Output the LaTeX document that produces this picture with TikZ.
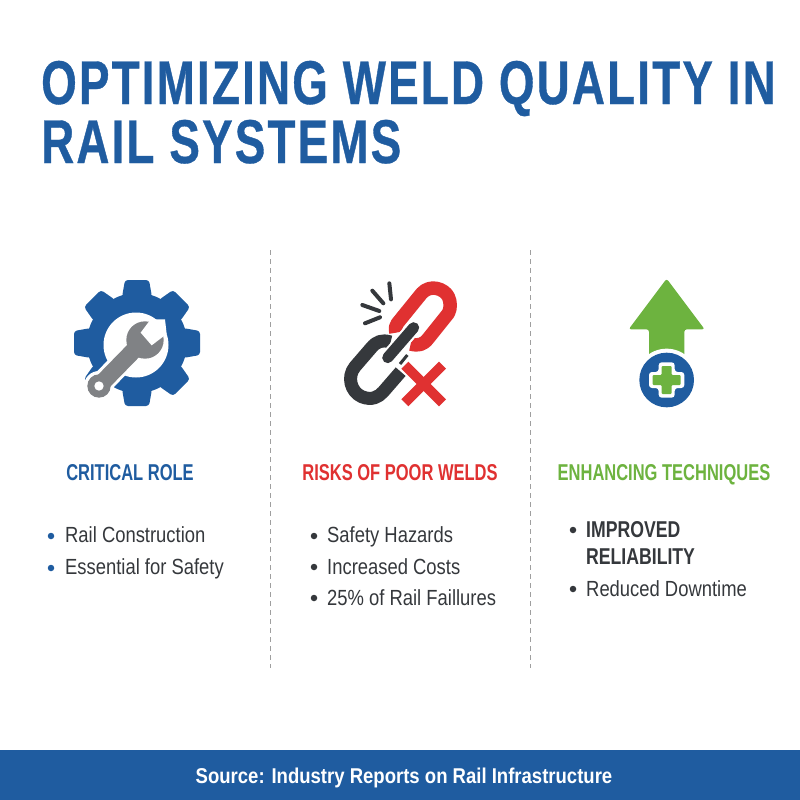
\documentclass[tikz,border=0pt]{standalone}
\usepackage{fontspec}
\setmainfont{Liberation Sans}
\newfontfamily\ttlfont[FakeStretch=0.74,LetterSpace=3.6,FakeBold=0.6]{Liberation Sans Bold}
\newfontfamily\hdfont[FakeStretch=0.72]{Liberation Sans Bold}
\newfontfamily\itemfont[FakeStretch=0.84]{Liberation Sans}
\newfontfamily\itemboldfont[FakeStretch=0.77]{Liberation Sans Bold}
\newfontfamily\footfont[FakeStretch=0.865]{Liberation Sans Bold}
\definecolor{wblue}{HTML}{1F5CA0}
\definecolor{wred}{HTML}{E03131}
\definecolor{wgreen}{HTML}{6DB33F}
\definecolor{wdark}{HTML}{35383C}
\definecolor{wgray}{HTML}{808285}
\tikzset{
  ttl/.style={anchor=base west,inner sep=0,text=wblue,font=\fontsize{62}{64}\selectfont\ttlfont},
  hd/.style={anchor=base,inner sep=0,font=\fontsize{23}{24}\selectfont\hdfont},
  itm/.style={anchor=base west,inner sep=0,text=wdark,font=\fontsize{22}{24}\selectfont\itemfont},
  itmb/.style={anchor=base west,inner sep=0,text=wdark,font=\fontsize{23}{24}\selectfont\itemboldfont},
  bul/.style={circle,inner sep=0,minimum size=6.5bp},
  divider/.style={draw=gray!75,line width=1bp,dash pattern=on 5bp off 4bp},
}
\begin{document}
\begin{tikzpicture}[x=1bp,y=-1bp]
\useasboundingbox (0,0) rectangle (800,800);
\fill[white] (0,0) rectangle (800,800);
\node[ttl] (t1) at (41,104) {OPTIMIZING WELD QUALITY IN};
\node[ttl] (t2) at (41,163) {RAIL SYSTEMS};
\draw[divider] (270,250) -- (270,668);
\draw[divider] (530,250) -- (530,668);
% gear
\begin{scope}[shift={(137,343)}]
\fill[wblue] (0,0) circle (50);
\foreach \a in {0,45,...,315}{
  \fill[wblue,rotate=\a,rounded corners=3bp] (46,-15) -- (63,-12) -- (63,12) -- (46,15) -- cycle;
}
\fill[white] (-1,2) circle (32.5);
\end{scope}
% wrench
\begin{scope}[shift={(50,260)},scale=1/3]
\draw[white,line width=23bp] (147,378) -- (270,250);
\fill[white] (147,378) circle (45);
\fill[wgray] (147,378) circle (35);
\draw[wgray,line width=17bp] (147,378) -- (270,252);
\fill[wgray] (285,240) circle (56);
\fill[white] (302,178) -- (272,218) -- (305,256) -- (350,222) -- (345,178) -- cycle;
\fill[white] (147,378) circle (14);
\end{scope}
% broken link
\begin{scope}[shift={(320,260)},scale=1/3,line cap=butt,line join=round]
\draw[wred,line width=13.5bp] (228,218) .. controls (225,205) and (226,198) .. (232,190) -- (305,100) .. controls (330,72) and (372,85) .. (385,110) .. controls (392,125) and (393,145) .. (385,160) -- (325,235) .. controls (310,255) and (295,258) .. (272,252);
\draw[white,line width=15bp,line cap=round] (281,203) -- (203,293);
\draw[wdark,line width=13bp] (212,246) .. controls (185,238) and (170,245) .. (155,262) -- (105,320) .. controls (80,350) and (92,395) .. (125,410) .. controls (155,422) and (175,412) .. (190,395) -- (242,335);
\draw[white,line width=15bp,line cap=round] (281,203) -- (203,293);
\draw[wdark,line width=11bp,line cap=round] (281,203) -- (203,293);
\draw[wdark,line width=3bp] (262,285) -- (240,312);
\draw[white,line width=13bp] (254.5,315.5) -- (367.5,428.5);
\draw[wred,line width=10bp] (254.5,315.5) -- (367.5,428.5);
\draw[wred,line width=10bp] (367.5,315.5) -- (254.5,428.5);
\draw[wdark,line width=4bp,line cap=round] (208,70) -- (213,118);
\draw[wdark,line width=4bp,line cap=round] (157,92) -- (190,130);
\draw[wdark,line width=4bp,line cap=round] (127,135) -- (178,153);
\draw[wdark,line width=4bp,line cap=round] (135,190) -- (180,172);
\end{scope}
% arrow and plus
\begin{scope}[shift={(590,260)},scale=1/3]
\fill[wgreen,rounded corners=2.5bp] (230,56) -- (344,208) -- (283,208) -- (283,300) -- (177,300) -- (177,208) -- (116,208) -- cycle;
\fill[white] (230,360) circle (94);
\fill[wblue] (230,360) circle (82);
\fill[white,rounded corners=3bp] (206,307) -- (254,307) -- (254,336) -- (283,336) -- (283,384) -- (254,384) -- (254,413) -- (206,413) -- (206,384) -- (177,384) -- (177,336) -- (206,336) -- cycle;
\fill[wgreen,rounded corners=1bp] (215,318) -- (245,318) -- (245,345) -- (272,345) -- (272,375) -- (245,375) -- (245,402) -- (215,402) -- (215,375) -- (188,375) -- (188,345) -- (215,345) -- cycle;
\end{scope}
% column 1
\node[hd,text=wblue] (h1) at (130,480) {CRITICAL ROLE};
\node[bul,fill=wblue] (b11) at (51,536) {};
\node[itm] (i11) at (65,542) {Rail Construction};
\node[bul,fill=wblue] (b12) at (51,568) {};
\node[itm] (i12) at (65,574) {Essential for Safety};
% column 2
\node[hd,text=wred] (h2) at (400,480) {RISKS OF POOR WELDS};
\node[bul,fill=wdark] (b21) at (314,536) {};
\node[itm] (i21) at (327,542) {Safety Hazards};
\node[bul,fill=wdark] (b22) at (314,567) {};
\node[itm] (i22) at (327,574) {Increased Costs};
\node[bul,fill=wdark] (b23) at (314,598) {};
\node[itm] (i23) at (327,605) {25\% of Rail Faillures};
% column 3
\node[hd,text=wgreen] (h3) at (664,480) {ENHANCING TECHNIQUES};
\node[bul,fill=wdark] (b31) at (573,530) {};
\node[itmb] (i31) at (586,537) {IMPROVED};
\node[itmb] (i32) at (586,564) {RELIABILITY};
\node[bul,fill=wdark] (b32) at (573,589) {};
\node[itm] (i33) at (586,596) {Reduced Downtime};
% footer
\fill[wblue] (0,750) rectangle (800,800);
\node[anchor=base,inner sep=0,text=white,font=\fontsize{21.5}{24}\selectfont\footfont] (src) at (404,783) {Source: Industry Reports on Rail Infrastructure};
\end{tikzpicture}
\end{document}
